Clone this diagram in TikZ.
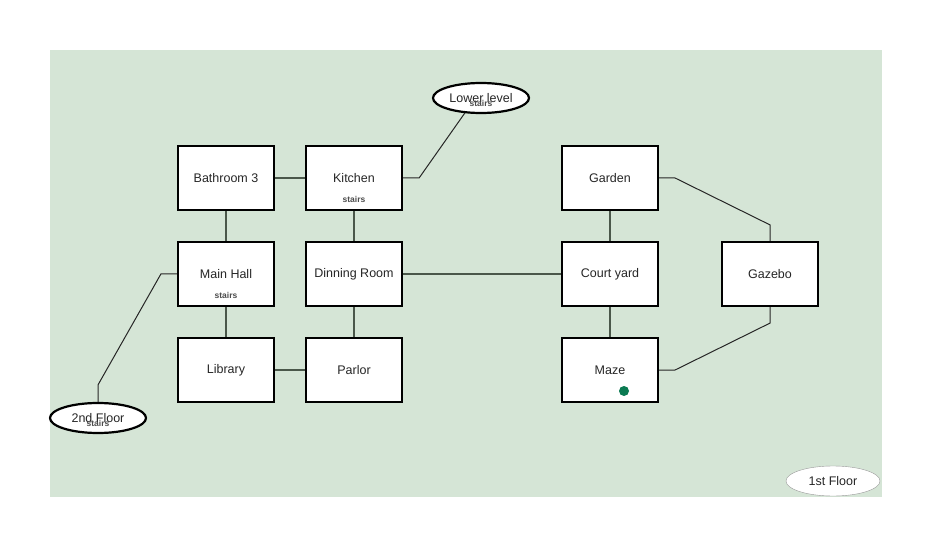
\documentclass[tikz,border=0pt]{standalone}
\usepackage{fontspec}
\setmainfont{Liberation Sans}
\usetikzlibrary{shapes.geometric}
\definecolor{lawn}{HTML}{D5E5D6}
\definecolor{wire}{HTML}{4A574A}
\definecolor{dotgreen}{HTML}{0B7A52}
\tikzset{
  room/.style={draw=black,line width=2.2pt,fill=white,minimum width=96pt,minimum height=64pt,inner sep=0pt,font=\fontsize{12.5}{14}\selectfont,text=black!85},
  floor/.style={ellipse,draw=black,line width=2.2pt,fill=white,minimum width=96pt,minimum height=30pt,inner sep=0pt,font=\fontsize{12.5}{14}\selectfont,text=black!85},
  stairs/.style={font=\bfseries\fontsize{8.5}{10}\selectfont,text=black!70,inner sep=0pt},
  link/.style={draw=wire,line width=1.4pt},
  hop/.style={draw=black!85,line width=1pt}
}
\begin{document}
\begin{tikzpicture}[x=1pt,y=-1pt]
        \useasboundingbox (0,0) rectangle (932,548);
        \fill [lawn] (50,50) rectangle (882,497);
        % rooms
        \node[room] (bath) at (226,178) {Bathroom 3};
        \node[room] (kitchen) at (354,178) {Kitchen};
        \node[room] (mainhall) at (226,274) {Main Hall};
        \node[room] (dinning) at (354,274) {Dinning Room};
        \node[room] (library) at (226,370) {Library};
        \node[room] (parlor) at (354,370) {Parlor};
        \node[room] (garden) at (610,178) {Garden};
        \node[room] (court) at (610,274) {Court yard};
        \node[room] (maze) at (610,370) {Maze};
        \node[room] (gazebo) at (770,274) {Gazebo};
        \node[stairs] (kstairs) at (354,199) {stairs};
        \node[stairs] (mstairs) at (226,295) {stairs};
        % other floors
        \node[floor] (lower) at (481,98) {Lower level};
        \node[stairs] (lstairs) at (481,103) {stairs};
        \node[floor] (upper) at (98,418) {2nd Floor};
        \node[stairs] (ustairs) at (98,423) {stairs};
        \node[ellipse,draw=black!40,fill=white,minimum width=94pt,minimum height=30pt,inner sep=0pt,
              font=\fontsize{12.5}{14}\selectfont,text=black!85] (first) at (833,481) {1st Floor};
        \fill [dotgreen] (624,391) circle[radius=5];
        % doors
        \draw[link] (bath) -- (kitchen);
        \draw[link] (library) -- (parlor);
        \draw[link] (dinning) -- (court);
        \draw[link] (bath) -- (mainhall);
        \draw[link] (mainhall) -- (library);
        \draw[link] (kitchen) -- (dinning);
        \draw[link] (dinning) -- (parlor);
        \draw[link] (garden) -- (court);
        \draw[link] (court) -- (maze);
        % paths
        \draw[hop] (kitchen.east) -- ++(16,0) -- (lower.-137);
        \draw[hop] (mainhall.west) -- ++(-16,0) -- ([yshift=17pt]upper.north) -- (upper.north);
        \draw[hop] (garden.east) -- ++(16,0) -- ([yshift=16pt]gazebo.north) -- (gazebo.north);
        \draw[hop] (maze.east) -- ++(16,0) -- ([yshift=-16pt]gazebo.south) -- (gazebo.south);
      \end{tikzpicture}
\end{document}
